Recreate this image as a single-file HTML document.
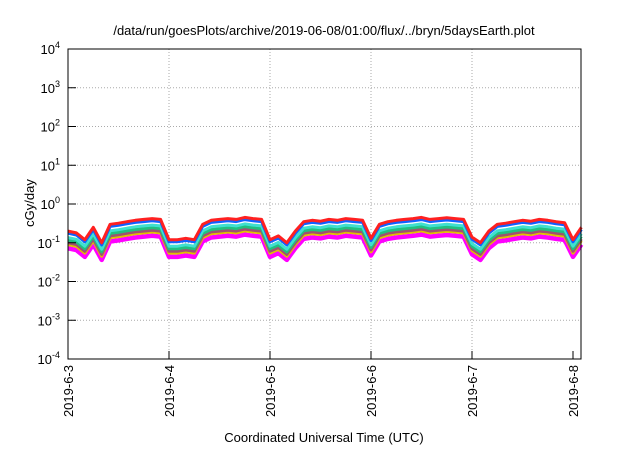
<!DOCTYPE html>
<html><head><meta charset="utf-8"><style>
body{margin:0;background:#fff;font-family:"Liberation Sans",sans-serif}
svg text{font-family:"Liberation Sans",sans-serif;fill:#000}
</style></head><body>
<svg width="640" height="448" xmlns="http://www.w3.org/2000/svg">
<text x="324" y="35" font-size="13" text-anchor="middle">/data/run/goesPlots/archive/2019-06-08/01:00/flux/../bryn/5daysEarth.plot</text>
<g id="grid"></g>
<g id="series"></g>
<rect x="68" y="49" width="513" height="310" fill="none" stroke="#000" stroke-width="1"/>
<g id="axes"></g>
<text transform="translate(34,203) rotate(-90)" font-size="13" text-anchor="middle">cGy/day</text>
<text x="324" y="442" font-size="13" text-anchor="middle">Coordinated Universal Time (UTC)</text>
</svg>
<script>
const yExps=[4,3,2,1,0,-1,-2,-3,-4];
const xTicks=["2019-6-3","2019-6-4","2019-6-5","2019-6-6","2019-6-7","2019-6-8"];
const base=[.2,.18,.12,.25,.1,.3,.32,.35,.38,.4,.42,.4,
.12,.12,.13,.12,.3,.38,.4,.42,.4,.45,.42,.4,
.12,.15,.1,.2,.35,.38,.36,.4,.38,.42,.4,.38,
.13,.3,.35,.38,.4,.42,.45,.4,.42,.44,.42,.4,
.14,.1,.2,.3,.32,.35,.38,.36,.4,.38,.35,.33,
.12,.25];
const seriesColors=["#ff00ff","#e0c000","#a05070","#20c080","#40e0d0","#1060ff","#ff2020"];
const seriesRatios=[0.36,0.45,0.5,0.58,0.68,0.88,1.0];
const L=68,R=581,T=49,B=359,NS="http://www.w3.org/2000/svg";
const xs=d=>L+d*101;
const ys=v=>T+(4-Math.log10(v))*(B-T)/8;
const grid=document.getElementById('grid'),axes=document.getElementById('axes'),ser=document.getElementById('series');
function mk(tag,at,p){const e=document.createElementNS(NS,tag);for(const k in at)e.setAttribute(k,at[k]);p.appendChild(e);return e;}
yExps.forEach(e=>{const y=T+(4-e)*(B-T)/8;
 if(e<4&&e>-4){const g=mk('line',{x1:L,x2:R,y1:y,y2:y,stroke:'#aaa','stroke-dasharray':'1,2'},grid);
 
 }
 const tk=mk('line',{x1:L,x2:L+8,y1:y,y2:y,stroke:'#000'},axes);
 
 
 const t=mk('text',{x:L-8,y:y+5,'font-size':13,'text-anchor':'end'},axes);
 
 
 t.innerHTML='10<tspan dy="-6" font-size="9">'+e+'</tspan>';});
xTicks.forEach((s,i)=>{const x=xs(i);
 if(i>0&&i<5){const g=mk('line',{x1:x,x2:x,y1:T,y2:B,stroke:'#aaa','stroke-dasharray':'1,2'},grid);
 
 }
 const tk=mk('line',{x1:x,x2:x,y1:B,y2:B-8,stroke:'#000'},axes);
 
 
 const t=mk('text',{transform:`translate(${x+5},${B+6}) rotate(-90)`,'font-size':13,'text-anchor':'end'},axes);
 
 
 t.textContent=s;});
seriesColors.forEach((c,si)=>{
 const pts=base.map((v,i)=>xs(i/12).toFixed(1)+','+ys(v*seriesRatios[si]).toFixed(1)).join(' ');
 const p=mk('polyline',{points:pts,fill:'none',stroke:c,'stroke-width':si==0?4.5:3,'stroke-linejoin':'round'},ser);
 
 });
</script>
</body></html>
